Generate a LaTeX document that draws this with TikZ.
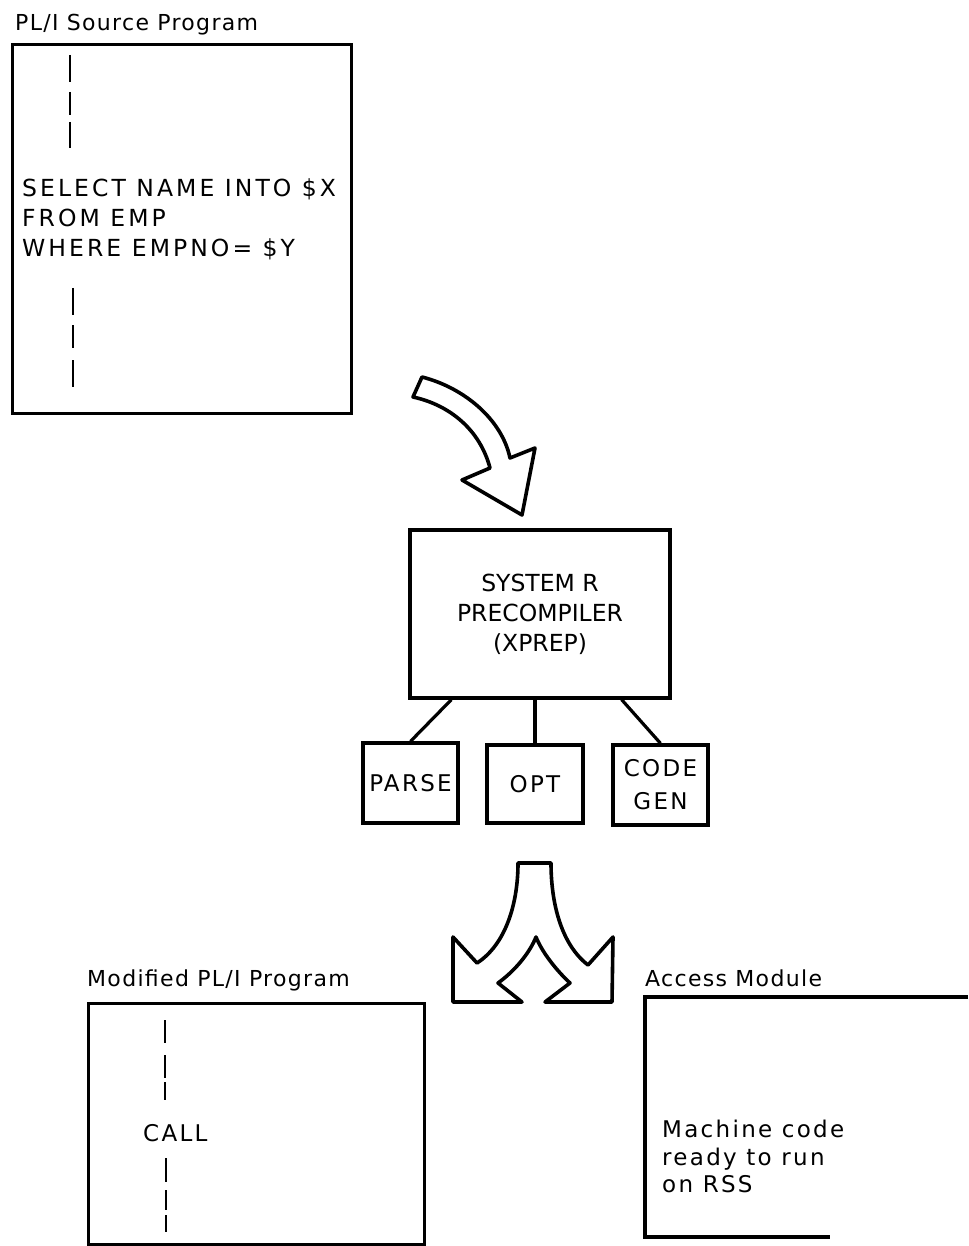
\documentclass[tikz,border=0pt]{standalone}
\usepackage{fontspec}
\newfontfamily\machine{DejaVu Sans}
\usetikzlibrary{positioning}

\tikzset{
  boite/.style={draw, line width=3.3pt, inner sep=0pt},
  texte/.style={font=\machine\fontsize{23}{29}\selectfont\addfontfeature{LetterSpace=10}, inner sep=0pt, anchor=base west},
  requete/.style={font=\machine\fontsize{23.5}{30}\selectfont\addfontfeature{LetterSpace=13}, inner sep=0pt, anchor=base west},
  titre/.style={font=\machine\fontsize{22}{28}\selectfont\addfontfeature{LetterSpace=6}, inner sep=0pt, anchor=base west},
  module/.style={font=\machine\fontsize{23.5}{30}\selectfont, inner sep=0pt, align=center},
  etape/.style={font=\machine\fontsize{23}{33}\selectfont\addfontfeature{LetterSpace=10}, inner sep=0pt, align=center},
  fleche/.style={draw, line width=3.6pt, line join=round, fill=white},
  trait/.style={line width=2.2pt},
  lien/.style={line width=3.2pt},
}

\begin{document}
\begin{tikzpicture}[x=1pt, y=-1pt]
    \useasboundingbox (0,0) rectangle (968,1246);

    % Programme source
    \node[titre] (titresrc) at (15,31) {PL/I Source Program};
    \node[boite, anchor=north west, minimum width=339pt, minimum height=369pt] (src) at (11,43) {};
    \node[requete] (sql1) at (22,197) {SELECT NAME INTO \$X};
    \node[requete] (sql2) at (22,227) {FROM EMP};
    \node[requete] (sql3) at (22,257) {WHERE EMPNO= \$Y};
    \foreach \a/\b in {55/82, 92/115, 122/148}
        \draw[trait] (70,\a) -- (70,\b);
    \foreach \a/\b in {288/315, 325/348, 360/387}
        \draw[trait] (73,\a) -- (73,\b);

    % Fleche courbe
    \draw[fleche] (422,377) .. controls (465,388) and (502,420) .. (510,458)
        -- (535,448) -- (522,515) -- (462,480) -- (490,468)
        .. controls (480,430) and (450,405) .. (413,397) -- cycle;

    % Precompilateur
    \node[boite, module, minimum width=260pt, minimum height=168pt] (pre) at (540,614)
        {SYSTEM R\\PRECOMPILER\\(XPREP)};
    \node[boite, etape, minimum width=95pt, minimum height=80pt] (parse) at (410.5,783) {PARSE};
    \node[boite, etape, minimum width=96pt, minimum height=78pt] (opt) at (535,784) {OPT};
    \node[boite, etape, minimum width=95pt, minimum height=80pt] (gen) at (660.5,785) {CODE\\GEN};

    \draw[lien] ([xshift=43pt]pre.south west) -- (parse.north);
    \draw[lien] (pre.south -| opt.north) -- (opt.north);
    \draw[lien] ([xshift=-50pt]pre.south east) -- (gen.north);

    % Fleche fourchue
    \draw[fleche] (518,863) -- (551,863)
        .. controls (551,905) and (562,945) .. (588,965)
        -- (613,937) -- (612,1002) -- (545,1002) -- (570,983)
        .. controls (556,970) and (542,952) .. (536,937)
        .. controls (530,952) and (516,970) .. (498,983)
        -- (522,1002) -- (453,1002) -- (453,937) -- (477,963)
        .. controls (505,945) and (518,905) .. (518,863) -- cycle;

    % Programme modifie
    \node[titre] (titremod) at (87,986) {Modified PL/I Program};
    \node[boite, anchor=north west, minimum width=336pt, minimum height=241pt] (mod) at (87,1002) {};
    \node[texte] (call) at (143,1141) {CALL};
    \foreach \a/\b in {1020/1043, 1055/1078, 1082/1100}
        \draw[trait] (165,\a) -- (165,\b);
    \foreach \a/\b in {1158/1182, 1190/1210, 1215/1232}
        \draw[trait] (166,\a) -- (166,\b);

    % Module d'acces
    \node[titre] (titreacc) at (645,986) {Access Module};
    \draw[lien] (968,997) -| (645,1237) -- (830,1237);
    \node[texte] (mc1) at (662,1137) {Machine code};
    \node[texte] (mc2) at (662,1165) {ready to run};
    \node[texte] (mc3) at (662,1192) {on RSS};
\end{tikzpicture}
\end{document}
